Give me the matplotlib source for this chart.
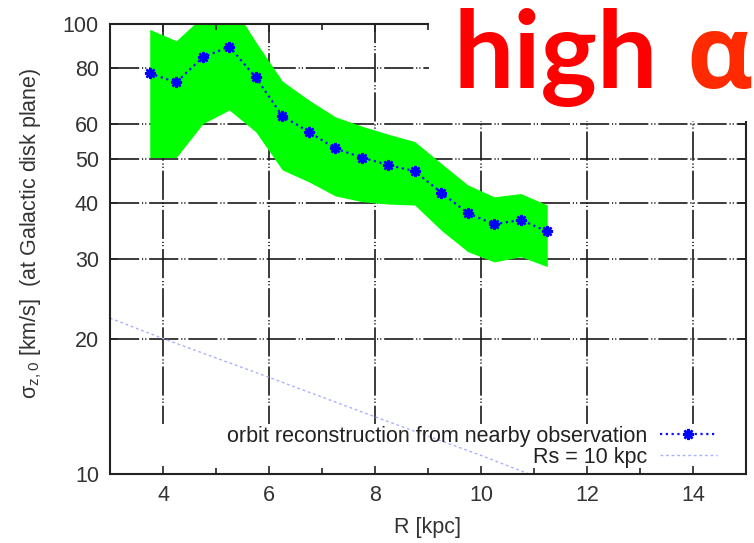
import matplotlib
matplotlib.use("Agg")
import matplotlib.pyplot as plt
from matplotlib.patches import Rectangle
from matplotlib.ticker import FixedLocator, NullFormatter, NullLocator

plt.rcParams['font.family'] = ['Liberation Sans', 'DejaVu Sans']

# ---- data ----
R = [3.75, 4.25, 4.75, 5.25, 5.75, 6.25, 6.75, 7.25, 7.75, 8.25, 8.75, 9.25, 9.75, 10.25, 10.75, 11.25]
sigma = [77.7, 74.2, 84.3, 89.1, 76.1, 62.5, 57.6, 52.9, 50.5, 48.6, 47.1, 42.2, 38.0, 35.9, 36.7, 34.6]
sigma_hi = [97.3, 91.8, 104.0, 113.0, 91.3, 74.7, 67.8, 62.2, 59.3, 56.9, 54.8, 49.0, 43.9, 41.3, 42.0, 39.6]
sigma_lo = [50.5, 50.5, 60.0, 64.4, 57.6, 47.4, 44.6, 41.5, 40.3, 39.8, 39.6, 34.8, 31.2, 29.6, 30.4, 28.9]

R_model = [3.0, 4.0, 6.0, 8.0, 10.0, 11.0]
sigma_model = [22.2, 20.0, 16.4, 13.4, 11.0, 9.9]

xticks = [4, 6, 8, 10, 12, 14]
xminor = [3, 5, 7, 9, 11, 13, 15]
yticks = [10, 20, 30, 40, 50, 60, 80, 100]
ytick_labels = ['10', '20', '30', '40', '50', '60', '80', '100']

label_obs = 'orbit reconstruction from nearby observation'
label_model = 'Rs = 10 kpc'
title_main = 'high'
title_greek = 'α'

W, H = 754, 543
FS = 15.5
fig = plt.figure(figsize=(W / 100, H / 100), dpi=100)
ax = fig.add_axes([110 / W, 1 - 474 / H, (746 - 110) / W, (474 - 24) / H])

ax.set_yscale('log')
ax.set_xlim(3, 15)
ax.set_ylim(10, 100)

ax.xaxis.set_major_locator(FixedLocator(xticks))
ax.xaxis.set_minor_locator(FixedLocator(xminor))
ax.xaxis.set_minor_formatter(NullFormatter())
ax.set_xticklabels([str(t) for t in xticks])
ax.yaxis.set_major_locator(FixedLocator(yticks))
ax.yaxis.set_minor_locator(NullLocator())
ax.set_yticklabels(ytick_labels)

ax.tick_params(axis='both', which='both', direction='in', top=True, right=True,
               labelsize=FS, colors='#222222', labelcolor='#333333')
ax.tick_params(axis='both', which='major', length=6, width=1.2, pad=8)
ax.tick_params(axis='x', which='minor', length=4, width=1.2)
for s in ax.spines.values():
    s.set_linewidth(1.5)
    s.set_color('#222222')

# grid (gnuplot-like dash-dot-dot)
gridstyle = (0, (17.5, 1.7, 0.7, 1.2, 0.7, 1.7))
for t in xticks:
    ax.plot([t, t], [10, 100], color='#1a1a1a', lw=1.2, ls=gridstyle, zorder=0.5)
for t in yticks[1:-1]:
    ax.plot([3, 15], [t, t], color='#1a1a1a', lw=1.2, ls=gridstyle, zorder=0.5)

# key area covers grid
ax.add_patch(Rectangle((3, 10), 12, 2.9, facecolor='white', edgecolor='none', zorder=0.8))

ax.fill_between(R, sigma_lo, sigma_hi, color='#00ff00', lw=0, zorder=1)

ax.plot(R_model, sigma_model, color='#aab0ff', lw=1.0, ls=(0, (2, 2)), zorder=2,
        label=label_model)
ax.plot(R, sigma, color='#0a10ff', lw=1.6, ls=(0, (1, 1.6)), marker=(8, 2, 0),
        ms=8, mew=1.8, mec='#0000ff', zorder=3, label=label_obs)

h = ax.get_lines()
leg = ax.legend(handles=[h[-1], h[-2]], loc='lower right', frameon=False,
                fontsize=FS, markerfirst=False, handlelength=2.65, handletextpad=0.6,
                borderaxespad=0.0, labelspacing=0.0, borderpad=0.0,
                bbox_to_anchor=((717 - 110) / 636, (474 - 468) / 450),
                labelcolor='#222222')
leg.set_zorder(4)

ax.set_xlabel('R [kpc]', fontsize=FS, color='#333333', labelpad=8)
ax.set_ylabel(r'$\mathregular{σ_{z,0}}$ [km/s]  (at Galactic disk plane)', fontsize=FS,
              color='#333333')
ax.yaxis.set_label_coords(-(110 - 44) / 636, 0.535)

# white box with title covering upper right
fig.patches.append(Rectangle((429 / W, 1 - 121 / H), (W - 429) / W, 121 / H,
                             transform=fig.transFigure, facecolor='white',
                             edgecolor='none', zorder=5))
fig.text(453 / W, 1 - 88 / H, title_main, fontsize=77, fontweight='bold',
         family='Lato', color='#ff0000', ha='left', va='baseline', zorder=6)
fig.text(686 / W, 1 - 88 / H, title_greek, fontsize=74, fontweight='bold',
         family='Open Sans', color='#ff2a00', ha='left', va='baseline', zorder=6)

fig.savefig('out.png', dpi=100)
